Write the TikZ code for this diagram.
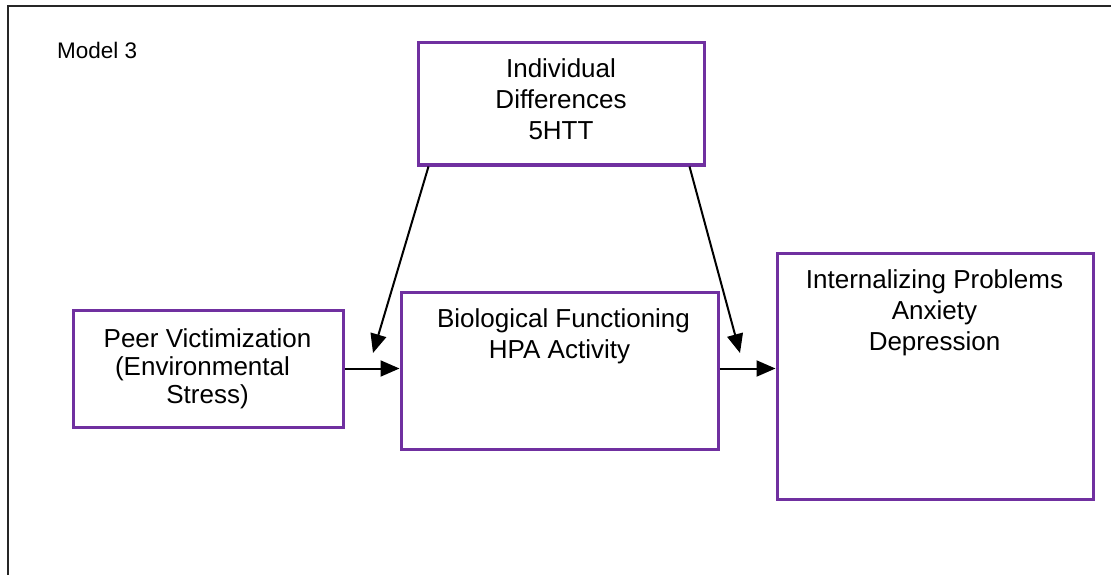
\documentclass[tikz,border=0pt]{standalone}
\usepackage{fontspec}
\setmainfont{Liberation Sans}
\usetikzlibrary{arrows.meta}
\definecolor{boxpurple}{HTML}{7030A0}

\begin{document}
\begin{tikzpicture}[x=1pt,y=-1pt,>={Triangle[length=19pt,width=16pt]},
    varbox/.style={draw=boxpurple, line width=3pt, inner sep=0pt},
    lbl/.style={anchor=base, inner sep=0pt, font=\fontsize{26}{31}\selectfont},
    link/.style={->, line width=2pt}]

  \useasboundingbox (0,0) rectangle (1111,575);
  \draw[line width=2pt, black!85] (8,575) -- (8,6) -- (1111,6);

  \node[anchor=base west, inner sep=0pt, font=\fontsize{22.5}{27}\selectfont] (title) at (57,59) {Model 3};

  % moderator
  \node[varbox, minimum width=286pt, minimum height=122pt] (diffbox) at (561,104) {};
      \node[lbl] (diff1) at (561,78) {Individual};
      \node[lbl] (diff2) at (561,109) {Differences};
      \node[lbl] (diff3) at (561,140) {5HTT};

  % predictor
  \node[varbox, minimum width=270pt, minimum height=117pt] (peerbox) at (208,368.5) {};
      \node[lbl] (peer1) at (207.5,347) {Peer Victimization};
      \node[lbl] (peer2) at (202.5,375) {(Environmental};
      \node[lbl] (peer3) at (207.5,403) {Stress)};

  % mediator
  \node[varbox, minimum width=317pt, minimum height=157pt] (biobox) at (559.5,370.5) {};
      \node[lbl] (bio1) at (563.5,327) {Biological Functioning};
      \node[lbl] (bio2) at (559.5,358) {HPA Activity};

  % outcome
  \node[varbox, minimum width=316pt, minimum height=246pt] (intbox) at (935,376) {};
      \node[lbl] (int1) at (934.5,288) {Internalizing Problems};
      \node[lbl] (int2) at (934.5,319) {Anxiety};
      \node[lbl] (int3) at (934.5,350) {Depression};

  \coordinate (mod1) at (373,353);
  \coordinate (mod2) at (740,353);

  \draw[link] (peerbox.east) -- (peerbox.east -| biobox.west);
  \draw[link] (biobox.east |- peerbox.east) -- (peerbox.east -| intbox.west);
  \draw[link] ([xshift=12pt]diffbox.south west) -- (mod1);
  \draw[link] ([xshift=-16pt]diffbox.south east) -- (mod2);

\end{tikzpicture}
\end{document}
